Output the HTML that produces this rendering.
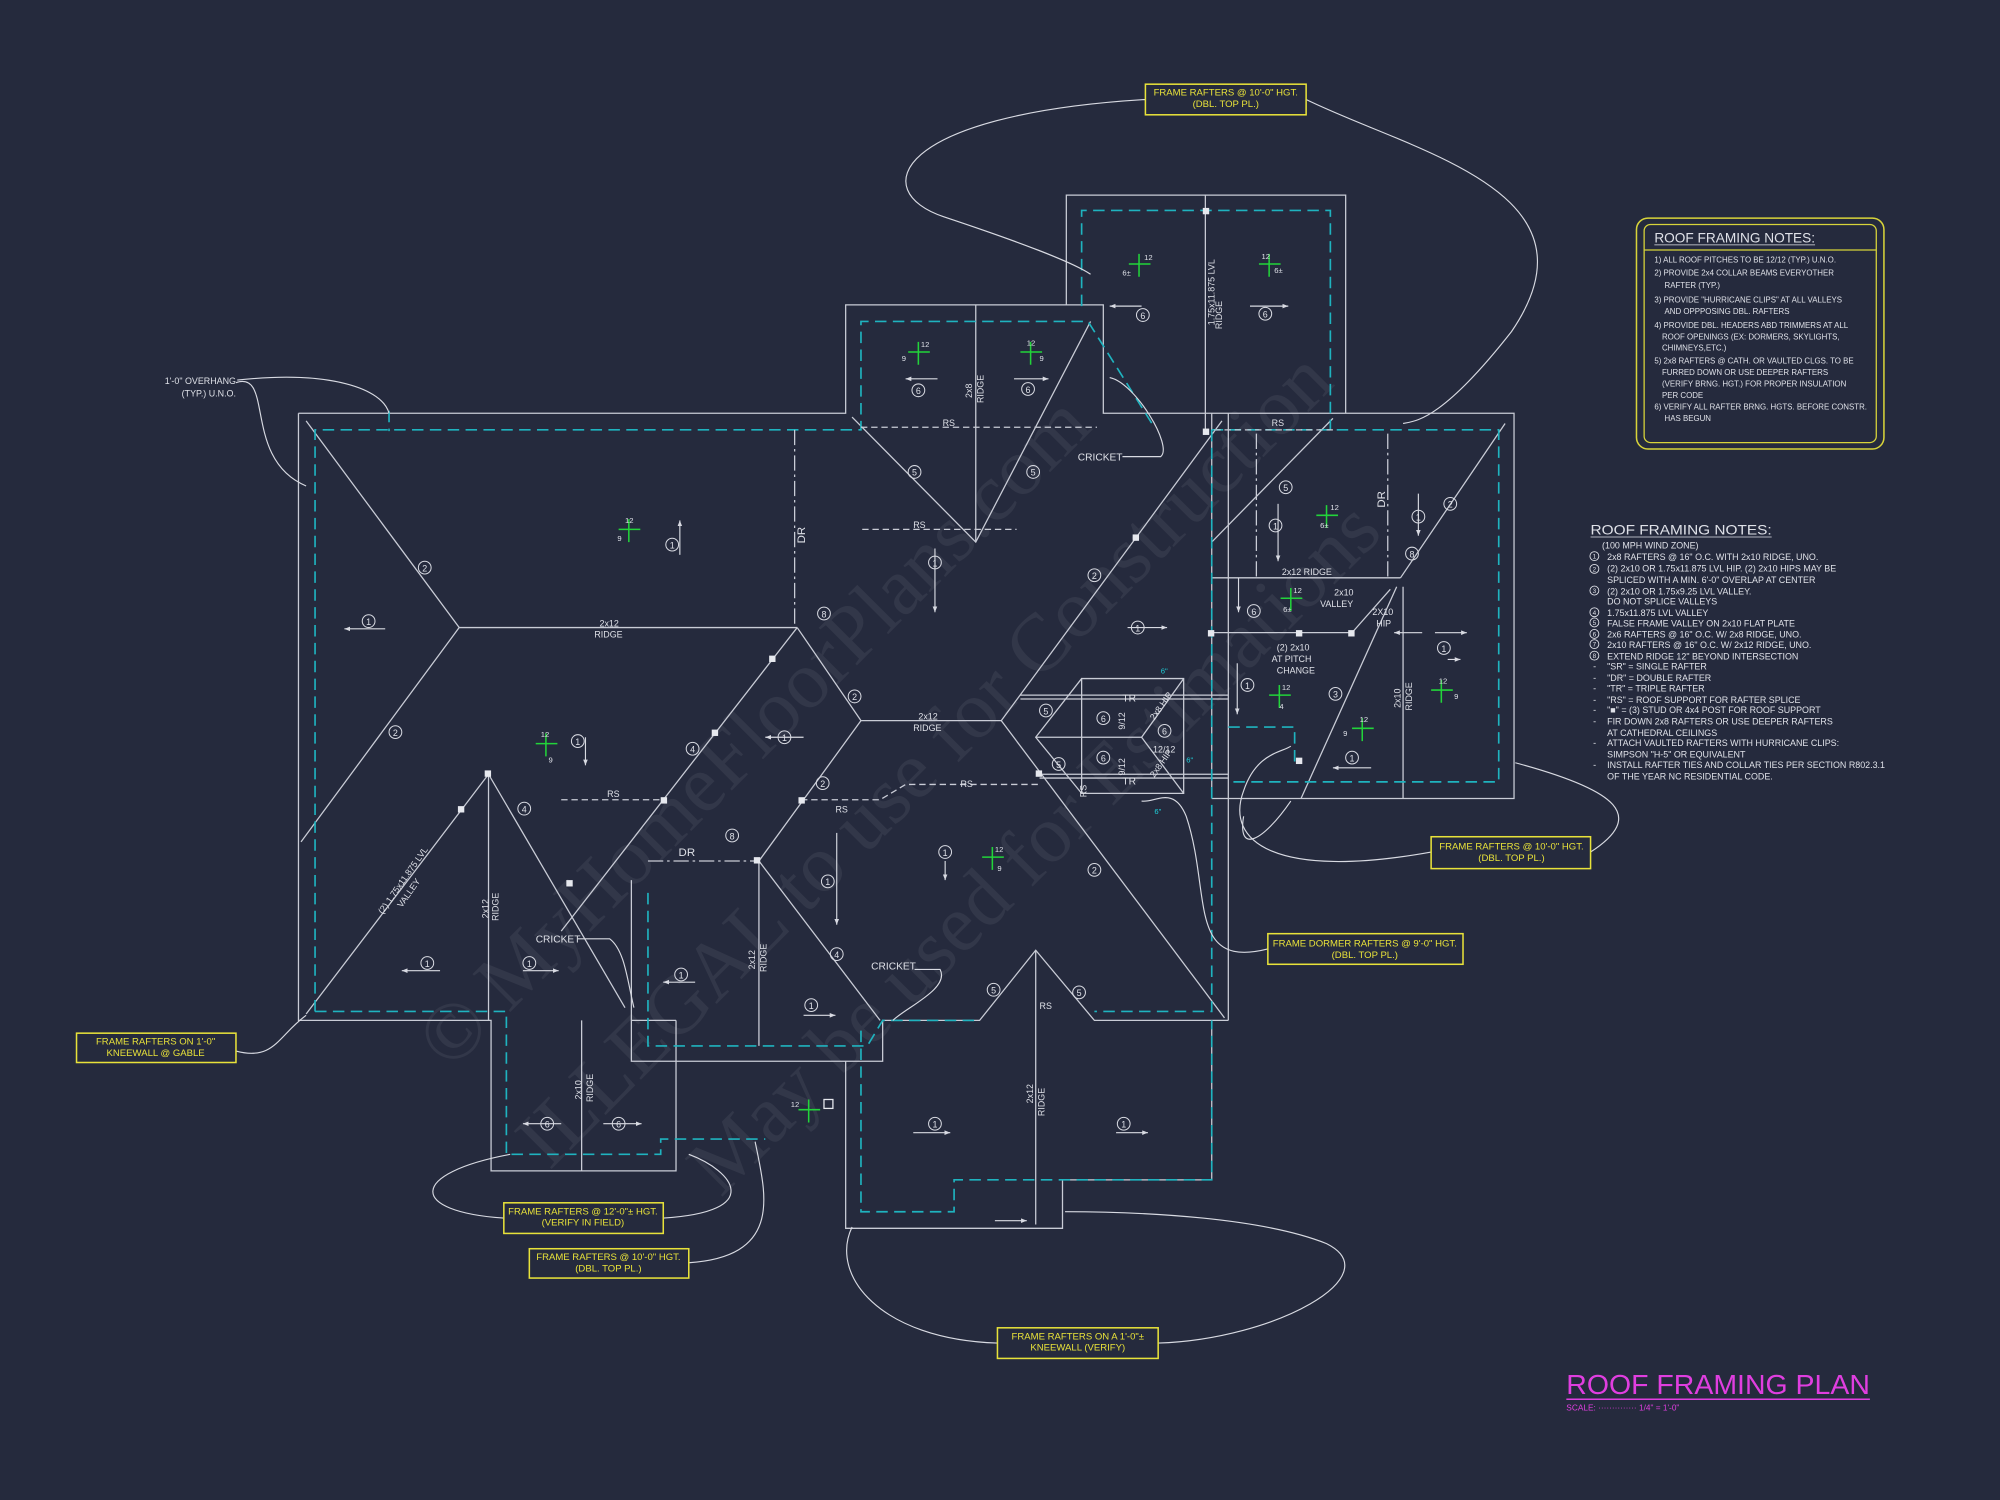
<!DOCTYPE html>
<html><head><meta charset="utf-8"><style>
html,body{margin:0;padding:0;background:#252a3d;}
svg{display:block;}
text{font-family:"Liberation Sans",sans-serif;}
.w{stroke:#c9ccd6;stroke-width:1;fill:none;}
.c{stroke:#1fb3bf;stroke-width:1.3;fill:none;stroke-dasharray:9 5;}
.d{stroke:#c9ccd6;stroke-width:1;fill:none;stroke-dasharray:5 3;}
.dd{stroke:#c9ccd6;stroke-width:1;fill:none;stroke-dasharray:12 3 2 3;}
.l{stroke:#d8dae2;stroke-width:0.9;fill:none;}
.t{fill:#dfe1e8;font-size:7px;}
.y{fill:#e8e23a;font-size:7.5px;}
.yb{fill:none;stroke:#e8e23a;stroke-width:1.2;}
.n circle{fill:none;stroke:#d8dae2;stroke-width:0.8;}
.g{stroke:#22d43a;stroke-width:1.2;}
.gt{fill:#dfe1e8;font-size:6px;}
.wm{fill:#ffffff;opacity:0.06;font-size:64px;font-family:"Liberation Serif",serif;}
</style></head><body>
<svg width="2000" height="1500" viewBox="0 0 1568 1176" preserveAspectRatio="none" xmlns="http://www.w3.org/2000/svg">
<defs>
<marker id="a" markerWidth="6" markerHeight="6" refX="5" refY="3" orient="auto"><path d="M0,1 L5,3 L0,5 Z" fill="#d8dae2"/></marker>
</defs>
<rect width="1568" height="1176" fill="#252a3d"/>

<!-- watermark -->
<g transform="translate(650,600) rotate(-45)">
<text class="wm" x="-380" y="-40">© MyHomeFloorPlans.com</text>
<text class="wm" x="-380" y="70">ILLEGAL to use for Construction</text>
<text class="wm" x="-300" y="180">May be used for Estimations</text>
</g>

<!-- outlines -->
<g class="w">
<path d="M234,324 H663 V239 H865 V324 H1187 V626 H950"/>
<path d="M836,239 V153 H1055 V324"/>
<path d="M963,324 V800"/>
<path d="M950,324 V626"/>
<path d="M234,324 V800 H385 V918 H530 V800"/>
<path d="M495,690 V832 H692 V800 H768 L812,745 L858,800 H963"/>
<path d="M663,832 V963 H833 V925 H950 V800"/>
<path d="M530,800 H495"/>
<path d="M240,330 L360,492 L236,660"/>
<path d="M360,492 H625"/>
<path d="M625,492 L675,565 H785 L958,330"/>
<path d="M625,492 L440,730 "/>
<path d="M675,565 L595,675"/>
<path d="M785,565 L960,798"/>
<path d="M240,795 L383,607 L490,790"/>
<path d="M383,607 V800"/>
<path d="M595,675 V820"/>
<path d="M595,675 L690,800"/>
<path d="M812,745 V960"/>
<path d="M456,800 V918"/>
<path d="M668,327 L765,425 L855,252"/>
<path d="M765,239 V425"/>
<path d="M945,153 V340"/>
<path d="M950,425 L1045,328"/>
<path d="M950,453 H1098"/>
<path d="M1098,453 L1180,332"/>
<path d="M1095,460 L1020,626"/>
<path d="M1100,460 V626"/>
<path d="M950,496 H1060 L1090,462"/>
<path d="M848,532 H928 V622 H848 Z"/>
<path d="M812,578 H895 L928,532"/>
<path d="M848,532 L812,578 L848,622"/>
<path d="M895,578 L928,622"/>
<path d="M800,545 L963,545 M800,548 L963,548"/>
<path d="M815,607 L963,607 M815,610 L963,610"/>
</g>

<!-- cyan dashed -->
<g class="c">
<path d="M247,793 V337 H675 V252 H853 L905,335"/>
<path d="M848,240 V165 H1043 V337"/>
<path d="M950,337 H1175 V613 H963"/>
<path d="M950,337 V793 H858"/>
<path d="M247,793 H397 V905 H518 V893 H600"/>
<path d="M508,700 V820 H680 L692,800 H768"/>
<path d="M675,808 V950 H748 V925 H950 V800"/>
<path d="M963,570 H1015 V600"/>
<path d="M305,322 L305,338"/>
</g>

<g class="d">
<path d="M675,335 H860"/>
<path d="M676,415 H797"/>
<path d="M440,627 H520"/>
<path d="M628,627 H690 L710,615 H815"/>
<path d="M952,337 H1045"/>
</g>
<g class="dd">
<path d="M623,337 V492"/>
<path d="M1088,340 V453"/>
<path d="M508,675 H595"/>
<path d="M985,340 V453"/>
</g>

<g fill="#e6e8ee">
<rect x="943" y="163" width="5" height="5"/><rect x="943" y="336" width="5" height="5"/>
<rect x="888" y="419" width="5" height="5"/><rect x="603" y="514" width="5" height="5"/>
<rect x="558" y="572" width="5" height="5"/><rect x="518" y="625" width="5" height="5"/>
<rect x="626" y="625" width="5" height="5"/><rect x="380" y="604" width="5" height="5"/>
<rect x="359" y="632" width="5" height="5"/><rect x="444" y="690" width="5" height="5"/>
<rect x="591" y="672" width="5" height="5"/><rect x="812" y="604" width="5" height="5"/>
<rect x="947" y="494" width="5" height="5"/><rect x="1016" y="494" width="5" height="5"/>
<rect x="1057" y="494" width="5" height="5"/><rect x="1016" y="594" width="5" height="5"/>
<rect x="646" y="862" width="7" height="7" fill="none" stroke="#e6e8ee"/>
</g>

<g class="l" marker-end="url(#a)">
<path d="M302,493 H270"/><path d="M533,435 V408"/><path d="M459,578 V600"/>
<path d="M630,578 H600"/><path d="M345,761 H315"/><path d="M410,761 H438"/>
<path d="M545,770 H520"/><path d="M630,796 H655"/><path d="M741,675 V690"/>
<path d="M656,653 V725"/><path d="M733,430 V480"/><path d="M884,492 H915"/>
<path d="M716,888 H745"/><path d="M875,888 H900"/><path d="M440,881 H410"/>
<path d="M473,881 H503"/><path d="M735,297 H710"/><path d="M795,297 H822"/>
<path d="M895,240 H870"/><path d="M980,240 H1010"/><path d="M1112,387 V420"/>
<path d="M1002,395 V440"/><path d="M1115,496 H1093"/><path d="M1125,496 H1150"/>
<path d="M970,520 V560"/><path d="M1075,602 H1045"/><path d="M971,453 V480"/>
<path d="M780,957 H805"/><path d="M1135,517 H1145"/>
</g>

<g class="n" font-size="7" text-anchor="middle">
<g fill="#dfe1e8">
<circle cx="289" cy="487" r="5"/><text x="289" y="490">1</text>
<circle cx="527" cy="427" r="5"/><text x="527" y="430">1</text>
<circle cx="333" cy="445" r="5"/><text x="333" y="448">2</text>
<circle cx="310" cy="574" r="5"/><text x="310" y="577">2</text>
<circle cx="453" cy="581" r="5"/><text x="453" y="584">1</text>
<circle cx="615" cy="578" r="5"/><text x="615" y="581">1</text>
<circle cx="543" cy="587" r="5"/><text x="543" y="590">4</text>
<circle cx="411" cy="634" r="5"/><text x="411" y="637">4</text>
<circle cx="335" cy="755" r="5"/><text x="335" y="758">1</text>
<circle cx="415" cy="755" r="5"/><text x="415" y="758">1</text>
<circle cx="534" cy="764" r="5"/><text x="534" y="767">1</text>
<circle cx="574" cy="655" r="5"/><text x="574" y="658">8</text>
<circle cx="646" cy="481" r="5"/><text x="646" y="484">8</text>
<circle cx="670" cy="546" r="5"/><text x="670" y="549">2</text>
<circle cx="645" cy="614" r="5"/><text x="645" y="617">2</text>
<circle cx="717" cy="370" r="5"/><text x="717" y="373">5</text>
<circle cx="810" cy="370" r="5"/><text x="810" y="373">5</text>
<circle cx="733" cy="441" r="5"/><text x="733" y="444">1</text>
<circle cx="858" cy="451" r="5"/><text x="858" y="454">2</text>
<circle cx="892" cy="492" r="5"/><text x="892" y="495">1</text>
<circle cx="720" cy="306" r="5"/><text x="720" y="309">6</text>
<circle cx="806" cy="305" r="5"/><text x="806" y="308">6</text>
<circle cx="896" cy="247" r="5"/><text x="896" y="250">6</text>
<circle cx="992" cy="246" r="5"/><text x="992" y="249">6</text>
<circle cx="741" cy="668" r="5"/><text x="741" y="671">1</text>
<circle cx="649" cy="691" r="5"/><text x="649" y="694">1</text>
<circle cx="656" cy="748" r="5"/><text x="656" y="751">4</text>
<circle cx="636" cy="788" r="5"/><text x="636" y="791">1</text>
<circle cx="779" cy="776" r="5"/><text x="779" y="779">5</text>
<circle cx="846" cy="778" r="5"/><text x="846" y="781">5</text>
<circle cx="858" cy="682" r="5"/><text x="858" y="685">2</text>
<circle cx="733" cy="881" r="5"/><text x="733" y="884">1</text>
<circle cx="881" cy="881" r="5"/><text x="881" y="884">1</text>
<circle cx="429" cy="881" r="5"/><text x="429" y="884">6</text>
<circle cx="485" cy="881" r="5"/><text x="485" y="884">6</text>
<circle cx="820" cy="557" r="5"/><text x="820" y="560">5</text>
<circle cx="830" cy="599" r="5"/><text x="830" y="602">5</text>
<circle cx="865" cy="563" r="5"/><text x="865" y="566">6</text>
<circle cx="913" cy="573" r="5"/><text x="913" y="576">6</text>
<circle cx="865" cy="594" r="5"/><text x="865" y="597">6</text>
<circle cx="1008" cy="382" r="5"/><text x="1008" y="385">5</text>
<circle cx="1000" cy="412" r="5"/><text x="1000" y="415">1</text>
<circle cx="1112" cy="405" r="5"/><text x="1112" y="408">1</text>
<circle cx="1137" cy="395" r="5"/><text x="1137" y="398">2</text>
<circle cx="1107" cy="434" r="5"/><text x="1107" y="437">8</text>
<circle cx="983" cy="479" r="5"/><text x="983" y="482">6</text>
<circle cx="978" cy="537" r="5"/><text x="978" y="540">1</text>
<circle cx="1047" cy="544" r="5"/><text x="1047" y="547">3</text>
<circle cx="1060" cy="594" r="5"/><text x="1060" y="597">1</text>
<circle cx="1132" cy="508" r="5"/><text x="1132" y="511">1</text>
</g></g>

<g>
<path class="g" d="M485,415 H502 M493,407 V425 M420,583 H437 M428,575 V593 M712,276 H729 M720,268 V286 M800,276 H817 M808,268 V286 M885,207 H902 M893,199 V217 M987,207 H1004 M995,199 V217 M770,672 H787 M778,664 V682 M1032,404 H1049 M1040,396 V414 M1004,469 H1021 M1012,461 V479 M995,545 H1012 M1003,537 V555 M1060,571 H1077 M1068,563 V581 M1122,541 H1139 M1130,533 V551 M626,870 H643 M634,862 V880"/>
<g class="gt">
<text x="490" y="410">12</text><text x="484" y="424">9</text><text x="424" y="578">12</text><text x="430" y="598">9</text><text x="722" y="272">12</text><text x="805" y="271">12</text>
<text x="897" y="204">12</text><text x="989" y="203">12</text><text x="880" y="216">6±</text><text x="999" y="214">6±</text>
<text x="707" y="283">9</text><text x="815" y="283">9</text><text x="1128" y="536">12</text><text x="1140" y="548">9</text>
<text x="1066" y="566">12</text><text x="1053" y="577">9</text><text x="620" y="868">12</text>
<text x="780" y="668">12</text><text x="782" y="683">9</text><text x="1043" y="400">12</text><text x="1035" y="414">6±</text>
<text x="1014" y="465">12</text><text x="1006" y="480">6±</text><text x="1005" y="541">12</text><text x="1003" y="556">4</text>
</g></g>

<g class="t">
<text x="470" y="491">2x12</text><text x="466" y="500">RIDGE</text>
<text x="720" y="564">2x12</text><text x="716" y="573">RIDGE</text>
<text x="739" y="334">RS</text><text x="716" y="414">RS</text><text x="476" y="625">RS</text>
<text x="655" y="637">RS</text><text x="753" y="617">RS</text><text x="997" y="334">RS</text>
<text x="815" y="791">RS</text><text x="532" y="671" font-size="9">DR</text>
<text x="1005" y="451">2x12 RIDGE</text>
<text x="1046" y="467">2x10</text><text x="1035" y="476">VALLEY</text>
<text x="1076" y="482">2X10</text><text x="1079" y="491">HIP</text>
<text x="1001" y="510">(2) 2x10</text><text x="997" y="519">AT PITCH</text><text x="1001" y="528">CHANGE</text>
<text x="845" y="361" font-size="8">CRICKET</text>
<text x="420" y="739" font-size="8">CRICKET</text>
<text x="683" y="760" font-size="8">CRICKET</text>
<text x="880" y="550" font-size="8">TR</text><text x="880" y="615" font-size="8">TR</text>
<text x="904" y="590">12/12</text>
<text transform="translate(762,312) rotate(-90)">2x8</text><text transform="translate(771,316) rotate(-90)">RIDGE</text>
<text transform="translate(952,255) rotate(-90)">1.75x11.875 LVL</text>
<text transform="translate(958,258) rotate(-90)">RIDGE</text>
<text transform="translate(631,426) rotate(-90)" font-size="9">DR</text>
<text transform="translate(1086,398) rotate(-90)" font-size="9">DR</text>
<text transform="translate(383,720) rotate(-90)">2x12</text><text transform="translate(391,722) rotate(-90)">RIDGE</text>
<text transform="translate(592,760) rotate(-90)">2x12</text><text transform="translate(601,762) rotate(-90)">RIDGE</text>
<text transform="translate(810,865) rotate(-90)">2x12</text><text transform="translate(819,875) rotate(-90)">RIDGE</text>
<text transform="translate(456,862) rotate(-90)">2x10</text><text transform="translate(465,864) rotate(-90)">RIDGE</text>
<text transform="translate(1098,555) rotate(-90)">2x10</text><text transform="translate(1107,557) rotate(-90)">RIDGE</text>
<text transform="translate(300,717) rotate(-55)">(2) 1.75x11.875 LVL</text>
<text transform="translate(315,712) rotate(-55)">VALLEY</text>
<text transform="translate(852,625) rotate(-90)">RS</text>
<text transform="translate(882,572) rotate(-90)">9/12</text><text transform="translate(882,608) rotate(-90)">9/12</text>
<text transform="translate(905,565) rotate(-55)">2x8 HIP</text><text transform="translate(905,610) rotate(-55)">2x8 HIP</text>
</g>
<g fill="#1fd0da" font-size="6"><text x="910" y="528">6"</text><text x="930" y="598">6"</text><text x="905" y="638">6"</text></g>

<g class="l">
<path d="M898,78 C700,90 680,150 740,170 C800,190 840,205 855,215"/>
<path d="M1024,78 C1110,120 1260,150 1185,260 C1130,330 1110,330 1100,332"/>
<path d="M185,300 C215,290 190,360 240,381"/>
<path d="M186,298 C260,290 300,305 305,324"/>
<path d="M185,824 C215,832 218,812 240,796"/>
<path d="M1247,668 C1290,640 1270,620 1188,598"/>
<path d="M1122,668 C1000,690 960,660 975,620 C985,590 1005,590 1012,585"/>
<path d="M994,744 C930,760 950,700 930,640 C920,615 905,630 895,628"/>
<path d="M395,955 C320,950 320,920 400,905"/>
<path d="M520,955 C600,950 575,918 540,905"/>
<path d="M540,990 C615,985 600,935 592,895"/>
<path d="M782,1053 C690,1050 650,1000 668,962"/>
<path d="M908,1053 C1000,1050 1090,1000 1040,975 C990,955 900,950 835,950"/>
<path d="M880,358 H910 C920,350 890,300 870,296"/>
<path d="M453,736 H478 C490,745 492,770 497,790"/>
<path d="M717,760 H737 C745,775 710,790 700,800"/>
<path d="M1012,628 C990,660 970,670 975,640"/>
</g>

<g>
<rect class="yb" x="898" y="66" width="126" height="24"/>
<text class="y" x="961" y="75" text-anchor="middle">FRAME RAFTERS @ 10'-0" HGT.</text>
<text class="y" x="961" y="84" text-anchor="middle">(DBL. TOP PL.)</text>
<rect class="yb" x="60" y="810" width="125" height="23"/>
<text class="y" x="122" y="819" text-anchor="middle">FRAME RAFTERS ON 1'-0"</text>
<text class="y" x="122" y="828" text-anchor="middle">KNEEWALL @ GABLE</text>
<rect class="yb" x="1122" y="656" width="125" height="25"/>
<text class="y" x="1185" y="666" text-anchor="middle">FRAME RAFTERS @ 10'-0" HGT.</text>
<text class="y" x="1185" y="675" text-anchor="middle">(DBL. TOP PL.)</text>
<rect class="yb" x="994" y="732" width="153" height="24"/>
<text class="y" x="1070" y="742" text-anchor="middle">FRAME DORMER RAFTERS @ 9'-0" HGT.</text>
<text class="y" x="1070" y="751" text-anchor="middle">(DBL. TOP PL.)</text>
<rect class="yb" x="395" y="943" width="125" height="24"/>
<text class="y" x="457" y="952" text-anchor="middle">FRAME RAFTERS @ 12'-0"± HGT.</text>
<text class="y" x="457" y="961" text-anchor="middle">(VERIFY IN FIELD)</text>
<rect class="yb" x="415" y="979" width="125" height="23"/>
<text class="y" x="477" y="988" text-anchor="middle">FRAME RAFTERS @ 10'-0" HGT.</text>
<text class="y" x="477" y="997" text-anchor="middle">(DBL. TOP PL.)</text>
<rect class="yb" x="782" y="1041" width="126" height="24"/>
<text class="y" x="845" y="1050" text-anchor="middle">FRAME RAFTERS ON A 1'-0"±</text>
<text class="y" x="845" y="1059" text-anchor="middle">KNEEWALL (VERIFY)</text>
</g>
<text class="t" x="185" y="301" text-anchor="end">1'-0" OVERHANG</text>
<text class="t" x="185" y="311" text-anchor="end">(TYP.) U.N.O.</text>

<rect x="1283" y="171" width="194" height="181" rx="9" fill="none" stroke="#d8d43a" stroke-width="1.2"/>
<rect x="1289" y="176" width="182" height="171" rx="5" fill="none" stroke="#d8d43a" stroke-width="1"/>
<line x1="1289" y1="196" x2="1471" y2="196" stroke="#d8d43a" stroke-width="1"/>
<text x="1297" y="190" fill="#dfe1e8" font-size="11" textLength="126" lengthAdjust="spacingAndGlyphs">ROOF FRAMING NOTES:</text>
<line x1="1297" y1="192" x2="1423" y2="192" stroke="#dfe1e8" stroke-width="0.6"/>
<g fill="#dfe1e8" font-size="6.2">
<text x="1297" y="206">1) ALL ROOF PITCHES TO BE 12/12 (TYP.) U.N.O.</text>
<text x="1297" y="216">2) PROVIDE 2x4 COLLAR BEAMS EVERYOTHER</text>
<text x="1305" y="226">RAFTER (TYP.)</text>
<text x="1297" y="237">3) PROVIDE "HURRICANE CLIPS" AT ALL VALLEYS</text>
<text x="1305" y="246">AND OPPPOSING DBL. RAFTERS</text>
<text x="1297" y="257">4) PROVIDE DBL. HEADERS ABD TRIMMERS AT ALL</text>
<text x="1303" y="266">ROOF OPENINGS (EX: DORMERS, SKYLIGHTS,</text>
<text x="1303" y="275">CHIMNEYS,ETC.)</text>
<text x="1297" y="285">5) 2x8 RAFTERS @ CATH. OR VAULTED CLGS. TO BE</text>
<text x="1303" y="294">FURRED DOWN OR USE DEEPER RAFTERS</text>
<text x="1303" y="303">(VERIFY BRNG. HGT.) FOR PROPER INSULATION</text>
<text x="1303" y="312">PER CODE</text>
<text x="1297" y="321">6) VERIFY ALL RAFTER BRNG. HGTS. BEFORE CONSTR.</text>
<text x="1305" y="330">HAS BEGUN</text>
</g>

<text x="1247" y="419" fill="#dfe1e8" font-size="11" textLength="142" lengthAdjust="spacingAndGlyphs">ROOF FRAMING NOTES:</text>
<line x1="1247" y1="421" x2="1389" y2="421" stroke="#dfe1e8" stroke-width="0.6"/>
<g fill="#dfe1e8" font-size="7">
<text x="1256" y="430">(100 MPH WIND ZONE)</text>
<g fill="none" stroke="#dfe1e8" stroke-width="0.7">
<circle cx="1250" cy="436" r="3.5"/><circle cx="1250" cy="446" r="3.5"/><circle cx="1250" cy="463" r="3.5"/><circle cx="1250" cy="480" r="3.5"/><circle cx="1250" cy="488" r="3.5"/><circle cx="1250" cy="497" r="3.5"/><circle cx="1250" cy="505" r="3.5"/><circle cx="1250" cy="514" r="3.5"/>
</g>
<g font-size="5" text-anchor="middle">
<text x="1250" y="438">1</text><text x="1250" y="448">2</text><text x="1250" y="465">3</text><text x="1250" y="482">4</text><text x="1250" y="490">5</text><text x="1250" y="499">6</text><text x="1250" y="507">7</text><text x="1250" y="516">8</text>
</g>
<text x="1260" y="439">2x8 RAFTERS @ 16" O.C. WITH 2x10 RIDGE, UNO.</text>
<text x="1260" y="448">(2) 2x10 OR 1.75x11.875 LVL HIP. (2) 2x10 HIPS MAY BE</text>
<text x="1260" y="457">SPLICED WITH A MIN. 6'-0" OVERLAP AT CENTER</text>
<text x="1260" y="466">(2) 2x10 OR 1.75x9.25 LVL VALLEY.</text>
<text x="1260" y="474">DO NOT SPLICE VALLEYS</text>
<text x="1260" y="483">1.75x11.875 LVL VALLEY</text>
<text x="1260" y="491">FALSE FRAME VALLEY ON 2x10 FLAT PLATE</text>
<text x="1260" y="500">2x6 RAFTERS @ 16" O.C. W/ 2x8 RIDGE, UNO.</text>
<text x="1260" y="508">2x10 RAFTERS @ 16" O.C. W/ 2x12 RIDGE, UNO.</text>
<text x="1260" y="517">EXTEND RIDGE 12" BEYOND INTERSECTION</text>
<text x="1249" y="525">-</text><text x="1260" y="525">"SR" = SINGLE RAFTER</text>
<text x="1249" y="534">-</text><text x="1260" y="534">"DR" = DOUBLE RAFTER</text>
<text x="1249" y="542">-</text><text x="1260" y="542">"TR" = TRIPLE RAFTER</text>
<text x="1249" y="551">-</text><text x="1260" y="551">"RS" = ROOF SUPPORT FOR RAFTER SPLICE</text>
<text x="1249" y="559">-</text><text x="1260" y="559">"■" = (3) STUD OR 4x4 POST FOR ROOF SUPPORT</text>
<text x="1249" y="568">-</text><text x="1260" y="568">FIR DOWN 2x8 RAFTERS OR USE DEEPER RAFTERS</text>
<text x="1260" y="577">AT CATHEDRAL CEILINGS</text>
<text x="1249" y="585">-</text><text x="1260" y="585">ATTACH VAULTED RAFTERS WITH HURRICANE CLIPS:</text>
<text x="1260" y="594">SIMPSON "H-5" OR EQUIVALENT</text>
<text x="1249" y="602">-</text><text x="1260" y="602">INSTALL RAFTER TIES AND COLLAR TIES PER SECTION R802.3.1</text>
<text x="1260" y="611">OF THE YEAR NC RESIDENTIAL CODE.</text>
</g>

<text x="1228" y="1093" fill="#e03ee0" font-size="22" textLength="238" lengthAdjust="spacingAndGlyphs">ROOF FRAMING PLAN</text>
<line x1="1228" y1="1097" x2="1466" y2="1097" stroke="#e03ee0" stroke-width="1.2"/>
<text x="1228" y="1106" fill="#e03ee0" font-size="6.5">SCALE: ·············· 1/4" = 1'-0"</text>
</svg>
</body></html>
